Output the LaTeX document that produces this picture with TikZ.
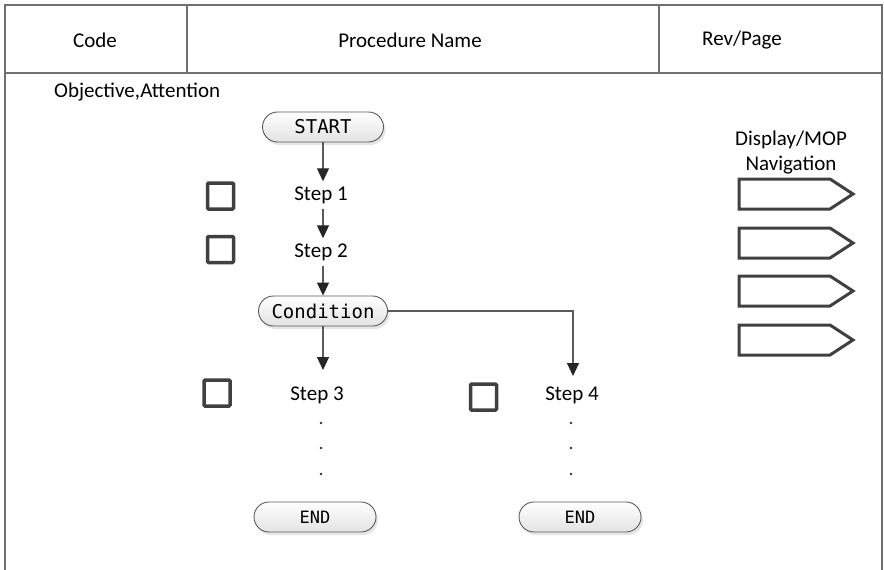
\documentclass[tikz,border=0pt]{standalone}
\usepackage{fontspec}
\setmainfont{Carlito}
\newfontfamily\codefont{DejaVu Sans Mono}
\usetikzlibrary{arrows.meta,shadows}

\definecolor{framegray}{HTML}{707070}
\definecolor{flowgray}{HTML}{5A5A5A}
\definecolor{boxdark}{HTML}{404040}

\tikzset{
  lbl/.style={font=\fontsize{21}{25}\selectfont, inner sep=0pt},
  steptext/.style={font=\fontsize{21}{25}\selectfont, inner xsep=0pt, inner ysep=5pt},
  terminal/.style={draw=flowgray, line width=0.9pt, rounded corners=15pt,
    minimum height=30pt, top color=white, bottom color=gray!22,
    drop shadow={shadow xshift=2pt, shadow yshift=-3pt, fill=gray!45, opacity=0.45},
    font=\codefont\fontsize{19}{22}\selectfont, inner sep=0pt},
  endbox/.style={terminal, font=\codefont\fontsize{17}{20}\selectfont, minimum width=122pt},
  checkbox/.style={draw=boxdark, line width=3.5pt, rounded corners=1pt,
    minimum size=26pt, inner sep=0pt},
  flow/.style={draw=flowgray, line width=1.1pt,
    -{Triangle[length=13pt,width=12pt,fill=black!85,color=black!85]}},
  navarrow/.style={draw=boxdark, line width=3pt, line join=miter},
  framel/.style={draw=framegray, line width=1.6pt},
}

\begin{document}
\begin{tikzpicture}[x=1pt, y=-1pt]
\useasboundingbox (0,0) rectangle (884,570);

% table frame and header row
\draw[framel] (5,570) -- (5,5) -- (882,5) -- (882,570);
\draw[framel] (5,73) -- (882,73);
\draw[framel] (187,5) -- (187,73);
\draw[framel] (659,5) -- (659,73);

\node[lbl] (code) at (95,40) {Code};
\node[lbl] (pname) at (410,40) {Procedure Name};
\node[lbl] (rev) at (742,40) {Rev/Page};
\node[lbl, anchor=west] (obj) at (54,92) {Objective,Attention};

% flow chart
\node[terminal, minimum width=121pt] (start) at (323,127) {START};
\node[steptext] (s1) at (321,195) {Step 1};
\node[steptext] (s2) at (321,252) {Step 2};
\node[terminal, minimum width=129pt] (cond) at (323,311) {Condition};
\node[steptext] (s3) at (317,395) {Step 3};
\node[steptext] (s4) at (572,395) {Step 4};
\node[endbox] (end1) at (315,517) {END};
\node[endbox] (end2) at (580,517) {END};
\coordinate (corner) at (573,311);
\coordinate (s3top) at (323,370);
\coordinate (s4top) at (573,376);

\draw[flow] (start.south) -- (start.south |- s1.north);
\draw[flow] (s1.south -| start.south) -- (s2.north -| start.south);
\draw[flow] (s2.south -| start.south) -- (cond.north);
\draw[flow] (cond.south) -- (s3top);
\draw[flow] (cond.east) -- (corner) -- (s4top);

% continuation dots
\foreach \yy [count=\i] in {423,448,474}{
  \node[circle, fill=black!80, inner sep=0pt, minimum size=2.6pt] (dl\i) at (321,\yy) {};
  \node[circle, fill=black!80, inner sep=0pt, minimum size=2.6pt] (dr\i) at (571,\yy) {};
}

% check boxes
\node[checkbox] (c1) at (220.5,196) {};
\node[checkbox] (c2) at (220.5,249.5) {};
\node[checkbox] (c3) at (217,393) {};
\node[checkbox] (c4) at (483.5,397) {};

% display / MOP navigation
\node[lbl, align=center] (nav) at (791,152.5) {Display/MOP\\Navigation};
\foreach \ytop in {179,228,276,325}{
  \draw[navarrow] (739,\ytop) -- (830,\ytop) -- (853,\ytop+15) -- (830,\ytop+30)
    -- (739,\ytop+30) -- cycle;
}
\end{tikzpicture}
\end{document}
